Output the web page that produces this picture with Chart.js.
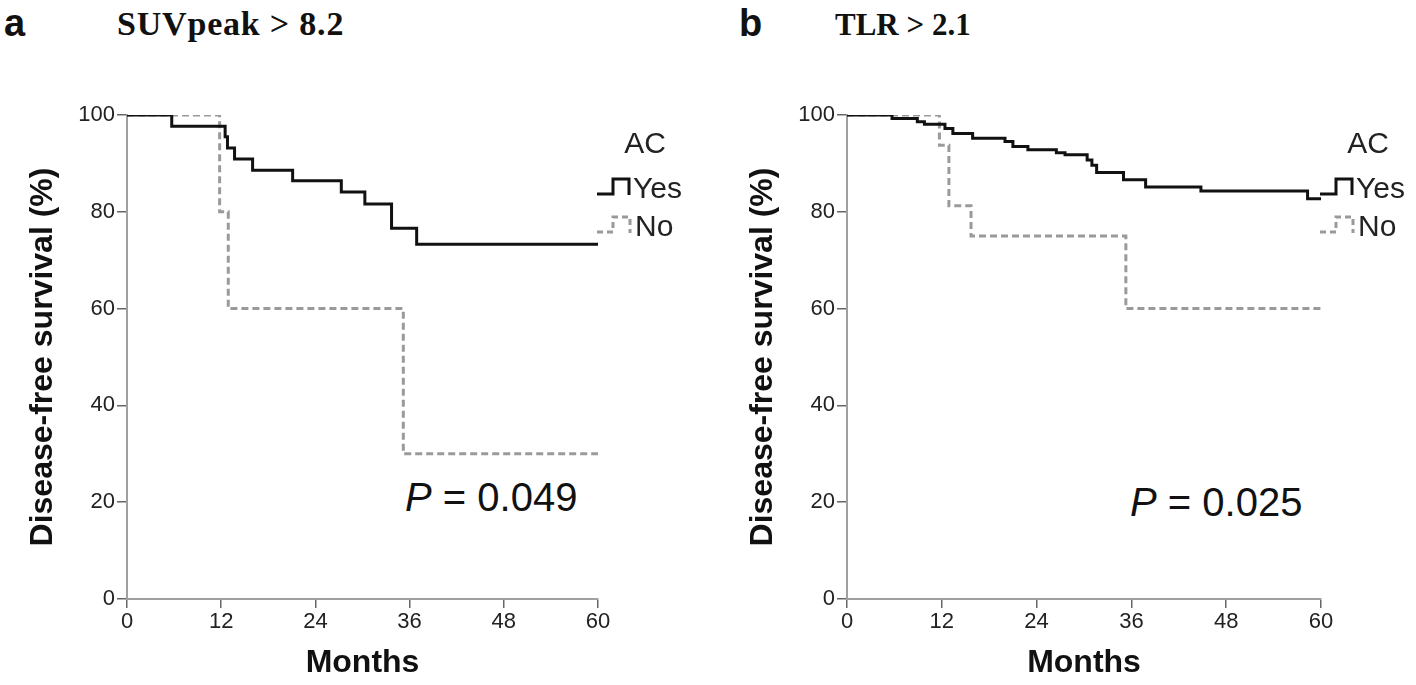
<!DOCTYPE html>
<html>
<head>
<meta charset="utf-8">
<script src="https://cdn.jsdelivr.net/npm/chart.js@4.4.1/dist/chart.umd.min.js"></script>
<style>
  body { margin: 0; background: #fff; width: 1416px; height: 685px; overflow: hidden; position: relative; font-family: Arial, "Liberation Sans", sans-serif; }
  canvas { position: absolute; top: 0; }
  #chartA { left: 0; }
  #chartB { left: 720px; }
  .letter { position: absolute; font: bold 38px Arial, "Liberation Sans", sans-serif; line-height: 1; color: #111; }
  .title { position: absolute; font: bold 34px "Times New Roman", "Liberation Serif", serif; line-height: 1; color: #111; }
  .pval { position: absolute; font: 40px Arial, "Liberation Sans", sans-serif; line-height: 1; color: #111; }
</style>
</head>
<body>
<div class="letter" style="left:4px; top:4px;">a</div>
<div class="title" style="left:117px; top:7px; letter-spacing:0.8px;">SUVpeak &gt; 8.2</div>
<div class="letter" style="left:739px; top:4px;">b</div>
<div class="title" style="left:835px; top:9px; font-size:31px;">TLR &gt; 2.1</div>
<div class="pval" style="left:405px; top:477px;"><i>P</i> = 0.049</div>
<div class="pval" style="left:1130px; top:482px;"><i>P</i> = 0.025</div>

<canvas id="chartA" width="720" height="685"></canvas>
<canvas id="chartB" width="696" height="685"></canvas>

<script>
// tick labels
const monthTicks = [0, 12, 24, 36, 48, 60];
const survTicks = [0, 20, 40, 60, 80, 100];
const legendTitle = 'AC';
const groupNames = ['Yes', 'No'];

// a: SUVpeak > 8.2
const suvYesMonths = [0, 5.7, 12.5, 12.8, 13.7, 16.0, 21.1, 27.3, 30.3, 33.7, 36.9, 60];
const suvYesSurv   = [100, 97.7, 95.5, 93.2, 90.9, 88.6, 86.4, 84.1, 81.6, 76.6, 73.3, 73.3];
const suvNoMonths  = [0, 11.8, 12.9, 35.2, 60];
const suvNoSurv    = [100, 80, 60, 30, 30];

// b: TLR > 2.1
const tlrYesMonths = [0, 5.7, 8.9, 9.8, 12.4, 13.4, 15.9, 20.0, 21.0, 22.9, 26.5, 27.6, 30.4, 31.0, 31.6, 35.0, 37.8, 44.8, 58.3, 60];
const tlrYesSurv   = [100, 99.3, 98.6, 98.1, 97.2, 96.2, 95.2, 94.5, 93.5, 92.8, 92.2, 91.8, 90.7, 89.6, 88.1, 86.6, 85.1, 84.3, 82.7, 82.7];
const tlrNoMonths  = [0, 11.7, 12.9, 15.7, 35.3, 60];
const tlrNoSurv    = [100, 93.75, 81.25, 75, 60, 60];

const FONT = 'Arial, "Liberation Sans", sans-serif';

function toPoints(xs, ys) {
    return xs.map((x, i) => ({ x: x, y: ys[i] }));
}

// legend with the little step symbols, to the right of the plot
const kmLegend = {
    id: 'kmLegend',
    afterDraw(chart) {
        const ctx = chart.ctx;
        const r = chart.chartArea.right;
        const t = chart.chartArea.top;
        ctx.save();
        ctx.font = '30px ' + FONT;
        ctx.fillStyle = '#222';
        ctx.textBaseline = 'middle';
        ctx.textAlign = 'center';
        ctx.fillText(legendTitle, r + 47, t + 30);
        ctx.textAlign = 'left';

        ctx.lineWidth = 3;
        ctx.strokeStyle = '#111';
        ctx.setLineDash([]);
        ctx.beginPath();
        ctx.moveTo(r - 1, t + 79);
        ctx.lineTo(r + 15, t + 79);
        ctx.lineTo(r + 15, t + 64);
        ctx.lineTo(r + 31, t + 64);
        ctx.lineTo(r + 31, t + 80);
        ctx.stroke();
        ctx.fillText(groupNames[0], r + 35, t + 75);

        ctx.strokeStyle = '#9a9a9a';
        ctx.setLineDash([6, 4]);
        ctx.beginPath();
        ctx.moveTo(r - 1, t + 117);
        ctx.lineTo(r + 15, t + 117);
        ctx.lineTo(r + 15, t + 102);
        ctx.lineTo(r + 32, t + 102);
        ctx.lineTo(r + 32, t + 118);
        ctx.stroke();
        ctx.fillText(groupNames[1], r + 37, t + 113);
        ctx.restore();
    }
};

function makePanel(id, padRight, yesX, yesY, noX, noY) {
    const ctx = document.getElementById(id).getContext('2d');
    return new Chart(ctx, {
        type: 'line',
        data: {
            datasets: [
                {
                    label: groupNames[0],
                    data: toPoints(yesX, yesY),
                    borderColor: '#111',
                    borderWidth: 3,
                    stepped: 'before',
                    pointRadius: 0,
                    fill: false,
                },
                {
                    label: groupNames[1],
                    data: toPoints(noX, noY),
                    borderColor: '#9a9a9a',
                    borderWidth: 3,
                    borderDash: [7, 4],
                    stepped: 'before',
                    pointRadius: 0,
                    fill: false,
                },
            ],
        },
        options: {
            responsive: false,
            animation: false,
            devicePixelRatio: 1,
            layout: { padding: { top: 115, right: padRight, left: 0, bottom: 0 } },
            plugins: { legend: { display: false }, tooltip: { enabled: false } },
            scales: {
                x: {
                    type: 'linear',
                    min: 0,
                    max: 60,
                    afterBuildTicks: (s) => { s.ticks = monthTicks.map(v => ({ value: v })); },
                    afterFit: (s) => { s.height = 86; },
                    grid: { drawOnChartArea: false, drawTicks: true, tickLength: 9, color: '#666', lineWidth: 1.5 },
                    border: { display: true, color: '#a0a0a0', width: 2 },
                    ticks: { color: '#222', font: { family: FONT, size: 22 }, padding: 1, maxRotation: 0 },
                    title: {
                        display: true,
                        text: 'Months',
                        color: '#111',
                        font: { family: FONT, size: 32, weight: 'bold', lineHeight: 1 },
                        padding: { top: 0, bottom: 6 },
                    },
                },
                y: {
                    type: 'linear',
                    min: 0,
                    max: 100,
                    afterBuildTicks: (s) => { s.ticks = survTicks.map(v => ({ value: v })); },
                    afterFit: (s) => { s.width = 127; },
                    grid: { drawOnChartArea: false, drawTicks: true, tickLength: 10, color: '#666', lineWidth: 1.5 },
                    border: { display: true, color: '#a0a0a0', width: 2 },
                    ticks: { color: '#222', font: { family: FONT, size: 22 }, padding: 2 },
                    title: {
                        display: true,
                        text: 'Disease-free survival (%)',
                        color: '#111',
                        font: { family: FONT, size: 32, weight: 'bold', lineHeight: 1 },
                        padding: { top: 27, bottom: 0 },
                    },
                },
            },
        },
        plugins: [kmLegend],
    });
}

makePanel('chartA', 122, suvYesMonths, suvYesSurv, suvNoMonths, suvNoSurv);
makePanel('chartB', 95, tlrYesMonths, tlrYesSurv, tlrNoMonths, tlrNoSurv);
</script>
</body>
</html>
